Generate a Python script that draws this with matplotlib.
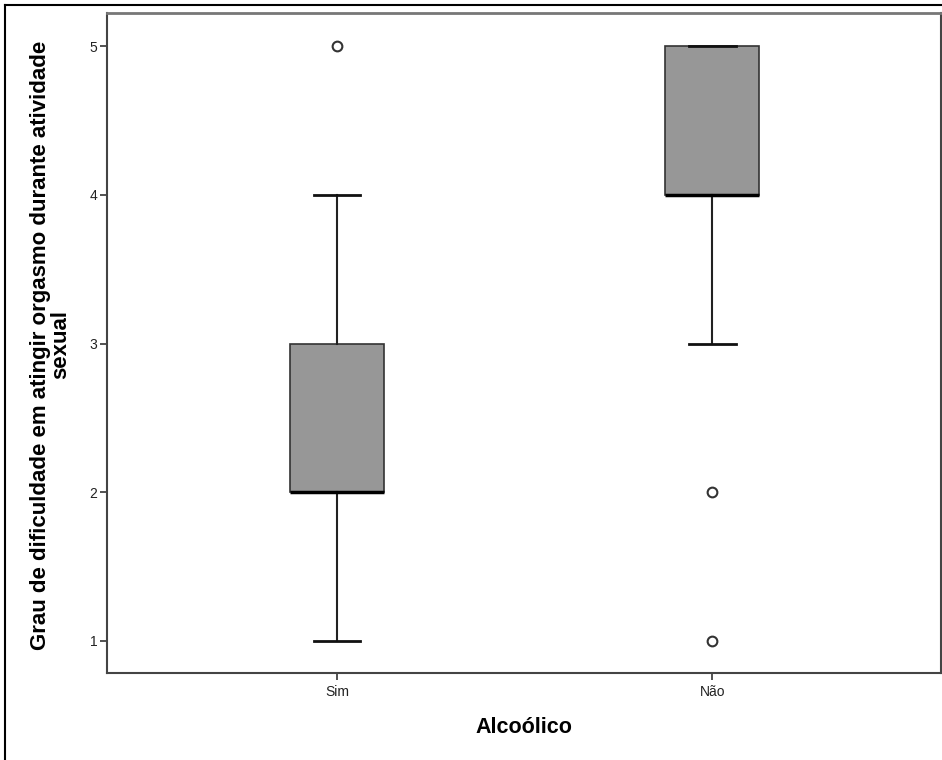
import matplotlib.pyplot as plt
from matplotlib.lines import Line2D

plt.rcParams['font.family'] = ['Liberation Sans', 'DejaVu Sans']

# summary statistics per group
groups = ['Sim', 'Não']
whisker_low = [1, 3]
q1 = [2, 4]
medians = [2, 4]
q3 = [3, 5]
whisker_high = [4, 5]
outliers = [[5], [2, 1]]

stats = []
for i, g in enumerate(groups):
    stats.append({
        'label': g,
        'whislo': whisker_low[i],
        'q1': q1[i],
        'med': medians[i],
        'q3': q3[i],
        'whishi': whisker_high[i],
        'fliers': outliers[i],
    })

fig = plt.figure(figsize=(9.42, 7.6), dpi=100)
ax = fig.add_axes([107 / 942, 1 - 673 / 760, 834 / 942, 660 / 760])

ax.bxp(stats, positions=[1, 2], widths=0.25, patch_artist=True,
       boxprops=dict(facecolor='#979797', edgecolor='#333333', linewidth=1.2),
       medianprops=dict(color='black', linewidth=2.5),
       whiskerprops=dict(color='#222222', linewidth=1.5),
       capprops=dict(color='#111111', linewidth=2),
       capwidths=0.125,
       flierprops=dict(marker='o', markersize=7, markerfacecolor='white',
                       markeredgecolor='#333333', markeredgewidth=1.5))

ax.set_xlim(0.387, 2.61)
ax.set_ylim(0.782, 5.225)
ax.set_yticks([1, 2, 3, 4, 5])
ax.set_xticks([1, 2])
ax.set_xticklabels(groups)
ax.tick_params(axis='both', direction='out', length=5, width=1.2,
               color='#333333', labelsize=10, labelcolor='#222222')
ax.tick_params(axis='y', pad=2)

for s in ax.spines.values():
    s.set_color('#444444')
    s.set_linewidth(1.5)
ax.spines['top'].set_color('#777777')
ax.spines['top'].set_linewidth(2)

ax.set_xlabel('Alcoólico', fontsize=15.5, fontweight='bold', labelpad=13)
ax.set_ylabel('Grau de dificuldade em atingir orgasmo durante atividade\nsexual',
              fontsize=16, fontweight='bold', linespacing=0.92)
ax.yaxis.set_label_coords(-0.043, 0.497)

# outer frame around the chart
fig.add_artist(Line2D([5 / 942, 1.0], [1 - 5 / 760, 1 - 5 / 760],
                      transform=fig.transFigure, color='black', linewidth=1.5))
fig.add_artist(Line2D([5 / 942, 5 / 942], [0.0, 1 - 5 / 760],
                      transform=fig.transFigure, color='black', linewidth=1.5))

fig.savefig('out.png', dpi=100)
